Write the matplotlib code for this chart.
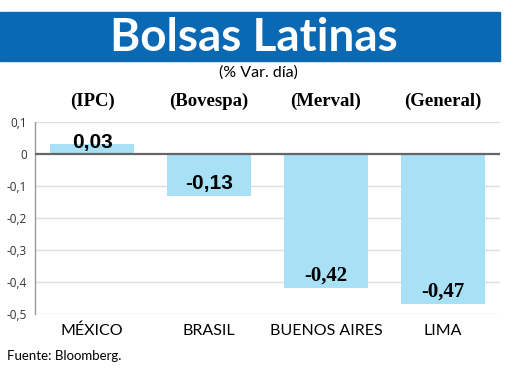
import matplotlib
matplotlib.use('Agg')
import matplotlib.pyplot as plt
from matplotlib.patches import Rectangle

# Datos
ciudades = ['MÉXICO', 'BRASIL', 'BUENOS AIRES', 'LIMA']
indices = ['(IPC)', '(Bovespa)', '(Merval)', '(General)']
variacion = [0.03, -0.13, -0.42, -0.47]
yticks = [0.1, 0, -0.1, -0.2, -0.3, -0.4, -0.5]
ytick_labels = ['0,1', '0', '-0,1', '-0,2', '-0,3', '-0,4', '-0,5']

W, H = 520, 378
fig = plt.figure(figsize=(W / 100, H / 100), dpi=100)
fig.patch.set_facecolor('white')

def fx(px):
    return px / W

def fy(py):
    return 1 - py / H

# Banda del título
fig.patches.append(Rectangle((0, fy(61)), fx(500), (61 - 12) / H,
                             transform=fig.transFigure, color='#0b68b3', zorder=0))
fig.text(fx(254), fy(38), 'Bolsas Latinas', color='white', fontsize=33,
         fontweight='bold', family='Lato', ha='center', va='center')
fig.text(fx(258), fy(73), '(% Var. día)', fontsize=11.5, family='Lato',
         ha='center', va='center')

ax = fig.add_axes([fx(35), fy(314), fx(500) - fx(35), (314 - 122) / H])
ax.bar(range(len(variacion)), variacion, width=0.72, color='#a8e1f6', zorder=2)
ax.set_xlim(-0.49, 3.49)
ax.set_ylim(-0.5, 0.1)

for y in yticks:
    if y == 0:
        ax.axhline(0, color='#666666', linewidth=1.6, zorder=3)
    else:
        ax.axhline(y, color='#dddddd', linewidth=1, zorder=1)

ax.set_yticks(yticks)
ax.set_yticklabels(ytick_labels, fontsize=8.5, color='#333333', family='Open Sans')
ax.tick_params(axis='y', length=0, pad=6)
ax.set_xticks([])
for s in ['top', 'right', 'bottom']:
    ax.spines[s].set_visible(False)
ax.spines['left'].set_color('#999999')
ax.spines['left'].set_linewidth(1)

# Etiquetas de valor
posiciones = [0.037, -0.093, -0.38, -0.43]
familias = ['Liberation Sans', 'Liberation Sans', 'Liberation Serif', 'Liberation Serif']
for i, v in enumerate(variacion):
    ax.text(i, posiciones[i], f'{v:.2f}'.replace('.', ','),
            ha='center', va='center', fontsize=15, fontweight='bold',
            family=familias[i], zorder=4)

# Índices arriba y ciudades abajo
for i, (c, n) in enumerate(zip(ciudades, indices)):
    xc = ax.transData.transform((i, 0))[0] / W
    fig.text(xc, fy(101), n, fontsize=13.5, fontweight='bold',
             family='Liberation Serif', ha='center', va='center')
    fig.text(xc, fy(331), c, fontsize=11.5, family='Lato',
             ha='center', va='center')

fig.text(fx(7), fy(356), 'Fuente: Bloomberg.', fontsize=9.5, family='Lato',
         ha='left', va='center')

fig.savefig('out.png', dpi=100)
